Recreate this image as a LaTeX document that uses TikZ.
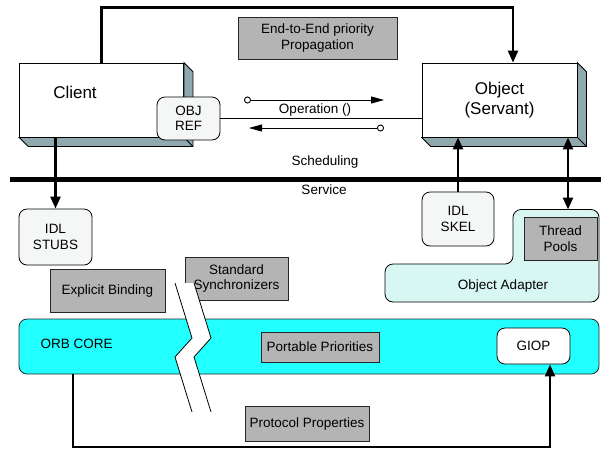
\documentclass[tikz,border=0pt]{standalone}
\usepackage{fontspec}
\setmainfont{Liberation Sans}
\usetikzlibrary{arrows.meta,calc}
\definecolor{grayfill}{HTML}{B4B4B4}
\definecolor{depthfill}{HTML}{8FA9AF}
\definecolor{orbfill}{HTML}{22FFFF}
\definecolor{adapterfill}{HTML}{D8F7F3}
\definecolor{softfill}{HTML}{F5F7F7}
\begin{document}
\begin{tikzpicture}[x=1pt,y=-1pt,
  font=\fontsize{13.5}{15.5}\selectfont,
  front/.style={draw=black, line width=0.8pt, fill=white, inner sep=0pt, align=center},
  depthface/.style={draw=black, line width=0.8pt, fill=depthfill},
  softbox/.style={draw=black, line width=0.8pt, fill=softfill, rounded corners=8pt, inner sep=0pt, align=center},
  graybox/.style={draw=black!85, line width=0.8pt, fill=grayfill, inner sep=0pt, align=center},
  whitebox/.style={draw=black, line width=0.8pt, fill=white, rounded corners=8pt, inner sep=0pt, align=center},
  orbbox/.style={draw=black!85, line width=0.8pt, fill=orbfill, rounded corners=8pt, inner sep=0pt},
  bigtext/.style={font=\fontsize{17}{20.5}\selectfont, align=center},
  bigarrow/.style={line width=2.4pt, -{Triangle[length=12pt,width=10pt]}},
  dblarrow/.style={line width=2.4pt, {Triangle[length=12pt,width=10pt]}-{Triangle[length=12pt,width=10pt]}},
  loopline/.style={line width=2pt, -{Triangle[length=12pt,width=10pt]}},
  oparrow/.style={line width=0.9pt, {Circle[open,length=7pt,width=7pt]}-{Triangle[length=13pt,width=7pt]}},
  thinline/.style={line width=0.9pt},
  breakline/.style={line width=0.8pt}
]
\useasboundingbox (0,0) rectangle (601,448);

% Client box with depth
\node[front, minimum width=164pt, minimum height=74pt] (client) at (101.5,100) {};
\filldraw[depthface] (client.north east) -- ++(9,9) -- ($(client.south east)+(9,9)$) -- ($(client.south west)+(9,9)$) -- (client.south west) -- (client.south east) -- cycle;
\draw[line width=0.8pt] (client.south east) -- ++(9,9);
\node[bigtext] (clientlbl) at (75,92.5) {Client};

% Object box with depth
\node[front, bigtext, minimum width=155pt, minimum height=74pt] (object) at (499.5,100) {Object\\(Servant)};
\filldraw[depthface] (object.north east) -- ++(9,9) -- ($(object.south east)+(9,9)$) -- ($(object.south west)+(9,9)$) -- (object.south west) -- (object.south east) -- cycle;
\draw[line width=0.8pt] (object.south east) -- ++(9,9);

% End-to-End priority propagation
\node[graybox, minimum width=159pt, minimum height=42pt] (e2e) at (317.5,38) {End-to-End priority\\Propagation};
\draw[bigarrow] (client.north) -- ++(0,-55) -| ([xshift=13.5pt]object.north);

% OBJ REF
\node[softbox, minimum width=63pt, minimum height=43pt] (objref) at (188.5,118.5) {OBJ\\REF};
\draw[thinline] (objref.east) -- (objref.east -| object.west);

% Operation arrows
\coordinate (op1s) at (244,100);
\coordinate (op1e) at (384,100);
\coordinate (op2s) at (384,128);
\coordinate (op2e) at (249,128);
\draw[oparrow] (op1s) -- (op1e);
\draw[oparrow] (op2s) -- (op2e);
\node (oplbl) at (315,110) {Operation ()};

% Scheduling service bar
\node (sched) at (325,162) {Scheduling};
\node (serv) at (324,190) {Service};
\coordinate (barL) at (10,179.3);
\coordinate (barR) at (601,179.3);
\draw[line width=5.2pt] (barL) -- (barR);

% IDL stubs / skel
\node[softbox, minimum width=73pt, minimum height=56pt] (stubs) at (55.5,237) {IDL\\STUBS};
\draw[bigarrow] (client.south -| stubs.north) -- (stubs.north);
\node[softbox, minimum width=72pt, minimum height=54pt] (skel) at (458,219) {IDL\\SKEL};
\draw[bigarrow] (skel.north) -- (skel.north |- object.south);

% Object adapter
\draw[line width=0.8pt, fill=adapterfill, rounded corners=8pt] (450,302) -- (385,302) -- (385,264) -- (513,264) -- (513,209.5) -- (599,209.5) -- (599,302) -- cycle;
\coordinate (oatop) at (568,209.5);
\node[graybox, minimum width=73pt, minimum height=43pt] (pools) at (560.5,238.5) {Thread\\Pools};
\node (oalbl) at (503,286) {Object Adapter};
\draw[dblarrow] ([xshift=68.5pt]object.south) -- (oatop);

% Explicit binding, synchronizers
\node[graybox, minimum width=115pt, minimum height=43pt] (explicit) at (107.5,290.5) {Explicit Binding};
\node[graybox, minimum width=103pt, minimum height=43pt] (sync) at (236.5,278.5) {Standard\\Synchronizers};

% ORB core
\node[orbbox, minimum width=580pt, minimum height=55pt] (orb) at (309,346.5) {};
\node[anchor=west] (orblbl) at (37,344) {ORB CORE};
\node[graybox, minimum width=118pt, minimum height=30pt] (portable) at (320,347) {Portable Priorities};
\node[whitebox, minimum width=73pt, minimum height=36pt] (giop) at (533.5,346) {GIOP};

% Break band
\fill[white] (175,283) -- (192,338) -- (175,357) -- (192,412) -- (211,412) -- (194,357) -- (211,338) -- (194,283) -- cycle;
\draw[breakline] (175,283) -- (192,338) -- (175,357) -- (192,412);
\draw[breakline] (194,283) -- (211,338) -- (194,357) -- (211,412);

% Protocol properties and loop
\node[graybox, minimum width=124pt, minimum height=35pt] (protocol) at (307,423.5) {Protocol Properties};
\draw[loopline] ([xshift=54pt]orb.south west) -- ++(0,72.5) -| ([xshift=16.5pt]giop.south);
\end{tikzpicture}
\end{document}
